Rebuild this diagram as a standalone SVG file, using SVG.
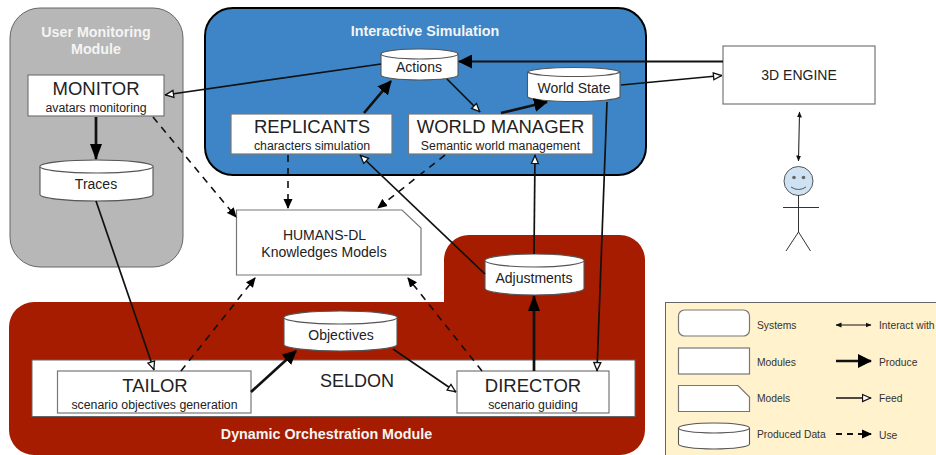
<svg xmlns="http://www.w3.org/2000/svg" width="936" height="455" viewBox="0 0 936 455">
<style>
text{font-family:"Liberation Sans",Arial,sans-serif;fill:#222;text-anchor:middle}
.box{fill:#fff;stroke:#777;stroke-width:1.2}
.big{font-size:18.500px}
.sub{font-size:12.300px}
.data{font-size:14px}
.title{font-size:14.300px;font-weight:bold;fill:#f4f4f4}
.leg{font-size:10.300px;fill:#333;text-anchor:start}
.c{fill:none;stroke:#111}
.thick{stroke-width:2.700}
.feed{stroke-width:1.700}
.use{stroke-width:1.600;stroke-dasharray:7 6}
.cyl{fill:#fff;stroke:#555;stroke-width:1.100}
</style>
<defs>
<marker id="solid" markerUnits="userSpaceOnUse" viewBox="0 0 14 14" refX="13" refY="7" markerWidth="14" markerHeight="14" orient="auto"><path d="M0 0L14 7L0 14Z" fill="#000"/></marker>
<marker id="bigsolid" markerUnits="userSpaceOnUse" viewBox="0 0 16 12" refX="15" refY="6" markerWidth="16" markerHeight="12" orient="auto"><path d="M0 0L16 6L0 12Z" fill="#000"/></marker>
<marker id="med" markerUnits="userSpaceOnUse" viewBox="0 0 10 10" refX="9" refY="5" markerWidth="10" markerHeight="10" orient="auto"><path d="M0 0.500L10 5L0 9.500Z" fill="#000"/></marker>
<marker id="hollow" markerUnits="userSpaceOnUse" viewBox="0 0 10 10" refX="9.500" refY="5" markerWidth="10" markerHeight="10" orient="auto"><path d="M1 1.500L9 5L1 8.500Z" fill="#fff" stroke="#111" stroke-width="1.300"/></marker>
<marker id="tiny" markerUnits="userSpaceOnUse" viewBox="0 0 6 6" refX="5.500" refY="3" markerWidth="6" markerHeight="6" orient="auto-start-reverse"><path d="M0 0.500L6 3L0 5.500Z" fill="#111"/></marker>
</defs>
<rect width="936" height="455" fill="#fff"/>

<g id="user-monitoring-module">
<rect x="10" y="8" width="173" height="259" rx="30" fill="#b7b7b7" stroke="#666" stroke-width="1"/>
<text class="title" x="96" y="37">User Monitoring</text>
<text class="title" x="96" y="54">Module</text>
</g>
<g id="interactive-simulation">
<rect x="205" y="8" width="441" height="167" rx="28" fill="#3d85c6" stroke="#000" stroke-width="2"/>
<text class="title" x="425" y="36">Interactive Simulation</text>
</g>
<g id="dynamic-orchestration-module">
<path d="M34 302H444V259A25 25 0 0 1 469 235H620A25 25 0 0 1 645 260V430A25 25 0 0 1 620 455H34A25 25 0 0 1 9 430V327A25 25 0 0 1 34 302Z" fill="#a61c00"/>
<text class="title" x="326.500" y="439">Dynamic Orchestration Module</text>
</g>
<g id="seldon">
<rect x="32" y="360" width="603" height="56.500" fill="#fff" stroke="#666" stroke-width="1"/>
<text x="357" y="387" style="font-size:18px">SELDON</text>
</g>

<g id="tailor"><rect class="box" x="57.500" y="371" width="193.500" height="42"/><text class="big" x="155" y="392">TAILOR</text><text class="sub" x="154.500" y="409">scenario objectives generation</text></g>
<g id="director"><rect class="box" x="457" y="371" width="152" height="42"/><text class="big" x="533" y="392">DIRECTOR</text><text class="sub" x="533" y="409">scenario guiding</text></g>
<g id="monitor"><rect class="box" x="28" y="75" width="136" height="41"/><text class="big" x="96" y="95">MONITOR</text><text class="sub" x="96" y="112">avatars monitoring</text></g>
<g id="replicants"><rect class="box" x="231" y="114" width="161" height="40"/><text class="big" x="312" y="133">REPLICANTS</text><text class="sub" x="312" y="150">characters simulation</text></g>
<g id="world-manager"><rect class="box" x="408.500" y="114" width="184.500" height="40"/><text class="big" x="500.500" y="133">WORLD MANAGER</text><text class="sub" x="500.500" y="150">Semantic world management</text></g>
<g id="engine"><rect class="box" x="723" y="46" width="152" height="58"/><text x="799" y="80" style="font-size:14px">3D ENGINE</text></g>
<g id="humans-dl"><path class="box" d="M236.500 210H402L421 228V275H236.500Z"/><text x="324.500" y="240" style="font-size:14px">HUMANS-DL</text><text x="324" y="257" style="font-size:14px">Knowledges Models</text></g>

<g id="traces"><path class="cyl" d="M40 166.500A56.500 6.500 0 0 1 153 166.500V194.500A56.500 6.500 0 0 1 40 194.500Z"/><path class="cyl" d="M40 166.500A56.500 6.500 0 0 0 153 166.500"/><text class="data" x="96" y="189">Traces</text></g>
<g id="actions"><path class="cyl" d="M381 54A38.500 5 0 0 1 458 54V75A38.500 5 0 0 1 381 75Z"/><path class="cyl" d="M381 54A38.500 5 0 0 0 458 54"/><text class="data" x="419" y="72">Actions</text></g>
<g id="world-state"><path class="cyl" d="M527.500 72A46.500 5 0 0 1 620 72V97A46.500 5 0 0 1 527.500 97Z"/><path class="cyl" d="M527.500 72A46.500 5 0 0 0 620 72"/><text class="data" x="574" y="93">World State</text></g>
<g id="adjustments"><path class="cyl" d="M485 260.500A49.500 6.500 0 0 1 584 260.500V288.500A49.500 6.500 0 0 1 485 288.500Z"/><path class="cyl" d="M485 260.500A49.500 6.500 0 0 0 584 260.500"/><text class="data" x="534" y="283">Adjustments</text></g>
<g id="objectives"><path class="cyl" d="M284 317.500A56.500 6.500 0 0 1 397 317.500V344.500A56.500 6.500 0 0 1 284 344.500Z"/><path class="cyl" d="M284 317.500A56.500 6.500 0 0 0 397 317.500"/><text class="data" x="341" y="340">Objectives</text></g>

<g id="person">
<circle cx="798.500" cy="181" r="14.500" fill="#cfe2f3" stroke="#555" stroke-width="1"/>
<circle cx="794" cy="177.500" r="1.800" fill="#666"/><circle cx="803.500" cy="177.500" r="1.800" fill="#666"/>
<path d="M791 187Q798.500 192 806 187" fill="none" stroke="#555" stroke-width="1"/>
<path d="M798.500 195V232L786 251M798.500 232L810.500 251M783 207.500H819" fill="none" stroke="#333" stroke-width="1"/>
</g>

<g id="connectors">
<path class="c feed" d="M381 64L165 95" marker-end="url(#hollow)"/>
<path class="c" stroke-width="2.200" d="M723 61.500H459" marker-end="url(#solid)"/>
<path class="c feed" d="M621 85L722 75.500" marker-end="url(#hollow)"/>
<path class="c thick" d="M364 113L391 81" marker-end="url(#solid)"/>
<path class="c feed" d="M447 79L480 112" marker-end="url(#hollow)"/>
<path class="c thick" d="M501 113L547 102" marker-end="url(#solid)"/>
<path class="c use" d="M445 155L378 208" marker-end="url(#med)"/>
<path class="c use" d="M288 155V208" marker-end="url(#med)"/>
<path class="c use" d="M153 117L236 217" marker-end="url(#med)"/>
<path class="c thick" d="M96 117V159" marker-end="url(#bigsolid)"/>
<path class="c feed" d="M96 201L154 370" marker-end="url(#hollow)"/>
<path class="c use" d="M181 371L255 278" marker-end="url(#med)"/>
<path class="c thick" d="M251 392L296 351" marker-end="url(#solid)"/>
<path class="c feed" d="M393 349L456 392" marker-end="url(#hollow)"/>
<path class="c use" d="M482 371L408 278" marker-end="url(#med)"/>
<path class="c thick" d="M534 371V296" marker-end="url(#bigsolid)"/>
<path class="c feed" d="M534 254L535 155" marker-end="url(#hollow)"/>
<path class="c feed" d="M485 274L360 155" marker-end="url(#hollow)"/>
<path class="c feed" d="M607 102L597 371" marker-end="url(#hollow)"/>
<path class="c" stroke="#222" stroke-width="1" d="M799.500 112L798.500 161" marker-start="url(#tiny)" marker-end="url(#tiny)"/>
</g>

<g id="legend">
<rect x="665.500" y="302.500" width="275" height="158" fill="#fff2cc" stroke="#666" stroke-width="1"/>
<rect class="box" x="678.500" y="310" width="71" height="26" rx="6"/>
<rect class="box" x="678.500" y="348" width="71" height="26"/>
<path class="box" d="M678.500 385.500H738L749.500 397V411.500H678.500Z"/>
<path class="cyl" d="M678.500 428A35.500 5 0 0 1 749.500 428V444A35.500 5 0 0 1 678.500 444Z"/>
<path class="cyl" d="M678.500 428A35.500 5 0 0 0 749.500 428"/>
<text class="leg" x="757" y="329">Systems</text>
<text class="leg" x="757" y="366">Modules</text>
<text class="leg" x="757" y="402">Models</text>
<text class="leg" x="757" y="438">Produced Data</text>
<text class="leg" x="879" y="329">Interact with</text>
<text class="leg" x="879" y="366">Produce</text>
<text class="leg" x="879" y="402">Feed</text>
<text class="leg" x="879" y="439">Use</text>
<path class="c" stroke-width="1" d="M836 325H871" marker-start="url(#tiny)" marker-end="url(#tiny)"/>
<path class="c thick" d="M836 361H871" marker-end="url(#solid)"/>
<path class="c feed" d="M836 398H871" marker-end="url(#hollow)"/>
<path class="c" stroke-width="1.800" stroke-dasharray="6 5" d="M836 434H871" marker-end="url(#med)"/>
</g>
</svg>
